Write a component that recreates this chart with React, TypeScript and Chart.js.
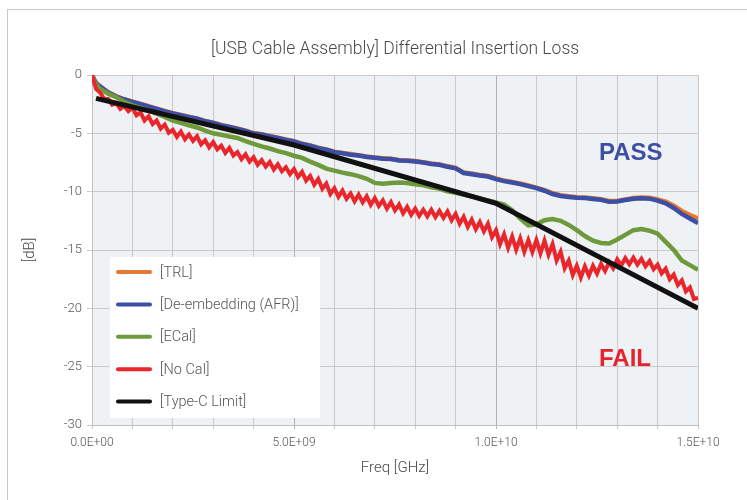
import React, { useEffect, useRef } from "react";
import { Chart, registerables } from "chart.js";

Chart.register(...registerables);

// Frequency samples in GHz (shared by TRL / AFR / ECal)
const FREQ_GHZ = [
  0, 0.05, 0.1, 0.2, 0.4, 0.6, 0.8, 1.0, 1.2, 1.4,
  1.6, 1.8, 2.0, 2.2, 2.4, 2.6, 2.8, 3.0, 3.2, 3.4,
  3.6, 3.8, 4.0, 4.2, 4.4, 4.6, 4.8, 5.0, 5.2, 5.4,
  5.6, 5.8, 6.0, 6.2, 6.4, 6.6, 6.8, 7.0, 7.2, 7.4,
  7.6, 7.8, 8.0, 8.2, 8.4, 8.6, 8.8, 9.0, 9.2, 9.4,
  9.6, 9.8, 10.0, 10.2, 10.4, 10.6, 10.8, 11.0, 11.2, 11.4,
  11.6, 11.8, 12.0, 12.2, 12.4, 12.6, 12.8, 13.0, 13.2, 13.4,
  13.6, 13.8, 14.0, 14.2, 14.4, 14.6, 14.8, 15.0,
];

const TRL_DB = [
  0, -0.38, -0.68, -0.98, -1.48, -1.82, -2.08, -2.28, -2.48, -2.68,
  -2.88, -3.08, -3.28, -3.43, -3.58, -3.73, -3.93, -4.08, -4.28, -4.43,
  -4.58, -4.78, -4.98, -5.08, -5.23, -5.38, -5.53, -5.68, -5.88, -6.03,
  -6.23, -6.38, -6.58, -6.68, -6.78, -6.88, -6.98, -7.08, -7.13, -7.18,
  -7.28, -7.33, -7.38, -7.47, -7.58, -7.67, -7.82, -7.97, -8.35, -8.45,
  -8.57, -8.65, -8.87, -9.05, -9.17, -9.3, -9.47, -9.65, -9.87, -10.13,
  -10.3, -10.4, -10.47, -10.5, -10.57, -10.65, -10.8, -10.8, -10.67, -10.55,
  -10.5, -10.52, -10.67, -10.85, -11.2, -11.65, -12.0, -12.3,
];

const AFR_DB = [
  0, -0.4, -0.7, -1.0, -1.5, -1.85, -2.1, -2.3, -2.5, -2.72,
  -2.9, -3.12, -3.3, -3.45, -3.62, -3.75, -3.97, -4.1, -4.32, -4.45,
  -4.62, -4.8, -5.02, -5.1, -5.27, -5.4, -5.57, -5.7, -5.92, -6.05,
  -6.27, -6.4, -6.62, -6.7, -6.83, -6.9, -7.03, -7.1, -7.17, -7.2,
  -7.33, -7.35, -7.42, -7.5, -7.63, -7.7, -7.87, -8.0, -8.4, -8.5,
  -8.62, -8.7, -8.92, -9.1, -9.22, -9.35, -9.52, -9.7, -9.92, -10.2,
  -10.37, -10.45, -10.52, -10.55, -10.62, -10.7, -10.87, -10.85, -10.72, -10.6,
  -10.57, -10.6, -10.77, -11.0, -11.4, -11.9, -12.3, -12.7,
];

const ECAL_DB = [
  0, -0.5, -0.8, -1.2, -1.6, -1.9, -2.3, -2.6, -2.82, -3.05,
  -3.32, -3.6, -3.92, -4.1, -4.32, -4.5, -4.77, -5.0, -5.12, -5.27,
  -5.4, -5.67, -5.9, -6.12, -6.3, -6.52, -6.7, -6.92, -7.1, -7.42,
  -7.7, -8.02, -8.2, -8.37, -8.5, -8.67, -8.9, -9.25, -9.32, -9.25,
  -9.22, -9.25, -9.37, -9.45, -9.62, -9.75, -9.97, -10.1, -10.27, -10.4,
  -10.57, -10.75, -10.92, -11.1, -11.6, -12.3, -12.9, -12.8, -12.45, -12.35,
  -12.5, -12.85, -13.3, -13.8, -14.2, -14.4, -14.45, -14.1, -13.7, -13.3,
  -13.2, -13.35, -13.6, -14.3, -15.0, -15.9, -16.3, -16.7,
];

// No Cal trace is sampled more finely (every 0.1 GHz) to keep its ripple
const NOCAL_FREQ_GHZ = [
  0.0, 0.1, 0.2, 0.3, 0.4, 0.5, 0.6, 0.7, 0.8, 0.9,
  1.0, 1.1, 1.2, 1.3, 1.4, 1.5, 1.6, 1.7, 1.8, 1.9,
  2.0, 2.1, 2.2, 2.3, 2.4, 2.5, 2.6, 2.7, 2.8, 2.9,
  3.0, 3.1, 3.2, 3.3, 3.4, 3.5, 3.6, 3.7, 3.8, 3.9,
  4.0, 4.1, 4.2, 4.3, 4.4, 4.5, 4.6, 4.7, 4.8, 4.9,
  5.0, 5.1, 5.2, 5.3, 5.4, 5.5, 5.6, 5.7, 5.8, 5.9,
  6.0, 6.1, 6.2, 6.3, 6.4, 6.5, 6.6, 6.7, 6.8, 6.9,
  7.0, 7.1, 7.2, 7.3, 7.4, 7.5, 7.6, 7.7, 7.8, 7.9,
  8.0, 8.1, 8.2, 8.3, 8.4, 8.5, 8.6, 8.7, 8.8, 8.9,
  9.0, 9.1, 9.2, 9.3, 9.4, 9.5, 9.6, 9.7, 9.8, 9.9,
  10.0, 10.1, 10.2, 10.3, 10.4, 10.5, 10.6, 10.7, 10.8, 10.9,
  11.0, 11.1, 11.2, 11.3, 11.4, 11.5, 11.6, 11.7, 11.8, 11.9,
  12.0, 12.1, 12.2, 12.3, 12.4, 12.5, 12.6, 12.7, 12.8, 12.9,
  13.0, 13.1, 13.2, 13.3, 13.4, 13.5, 13.6, 13.7, 13.8, 13.9,
  14.0, 14.1, 14.2, 14.3, 14.4, 14.5, 14.6, 14.7, 14.8, 14.9,
  15.0,
];

const NOCAL_DB = [
  0, -1.2, -1.5, -2.05, -2.05, -2.55, -2.4, -2.9, -2.65, -3.1,
  -2.8, -3.45, -3.2, -3.9, -3.55, -4.2, -3.9, -4.6, -4.25, -4.95,
  -4.7, -5.3, -4.85, -5.5, -5.1, -5.65, -5.25, -5.95, -5.6, -6.2,
  -5.75, -6.37, -6.05, -6.68, -6.25, -6.9, -6.6, -7.22, -6.8, -7.43,
  -7.05, -7.7, -7.3, -7.85, -7.45, -8.1, -7.65, -8.25, -7.9, -8.5,
  -8.05, -8.75, -8.3, -9.05, -8.65, -9.4, -8.9, -9.75, -9.3, -10.2,
  -9.7, -10.45, -9.9, -10.6, -10.15, -10.83, -10.25, -10.92, -10.4, -11.13,
  -10.55, -11.22, -10.75, -11.45, -10.9, -11.6, -11.1, -11.85, -11.3, -11.98,
  -11.45, -12.08, -11.55, -12.12, -11.55, -12.18, -11.65, -12.25, -11.7, -12.45,
  -11.9, -12.75, -12.15, -13.02, -12.4, -13.22, -12.6, -13.4, -12.75, -13.9,
  -13.3, -14.5, -13.65, -14.82, -13.85, -14.97, -14.0, -15.15, -14.15, -15.17,
  -14.15, -15.28, -14.2, -15.4, -14.5, -15.9, -15.15, -16.55, -15.9, -17.15,
  -16.35, -17.35, -16.4, -17.2, -16.35, -17.02, -16.2, -16.8, -16.05, -16.57,
  -15.8, -16.32, -15.7, -16.22, -15.65, -16.25, -15.75, -16.4, -15.95, -16.65,
  -16.25, -17.0, -16.6, -17.5, -17.1, -18.0, -17.6, -18.55, -18.2, -19.2,
  -19.1,
];

const LIMIT_FREQ_GHZ = [0.1, 5, 10, 15];
const LIMIT_DB = [-2.0, -6.0, -11.0, -20.0];

const SERIES_NAMES = ["[TRL]", "[De-embedding (AFR)]", "[ECal]", "[No Cal]", "[Type-C Limit]"];
const SERIES_COLORS = ["#e8782f", "#3d4ea5", "#6e9a3c", "#e8262b", "#111111"];

const TITLE = "[USB Cable Assembly] Differential Insertion Loss";
const X_TITLE = "Freq [GHz]";
const Y_TITLE = "[dB]";
const X_LABEL_EVERY_GHZ = 5;

const NOTE_PASS = { text: "PASS", x: 12.55, y: -6.7, color: "#3d4fa3" };
const NOTE_FAIL = { text: "FAIL", x: 12.55, y: -24.35, color: "#e5232f" };

const FONT = "Roboto";

function pts(xs: number[], ys: number[]) {
  return xs.map((x, i) => ({ x, y: ys[i] }));
}

function fmtHz(ghz: number) {
  const hz = Math.round(ghz * 1e9);
  if (hz === 0) return "0.0E+00";
  const exp = Math.floor(Math.log10(hz) + 1e-9);
  const mant = hz / Math.pow(10, exp);
  return `${mant.toFixed(1)}E+${String(exp).padStart(2, "0")}`;
}

const bgPlugin = {
  id: "plotBg",
  beforeDraw(chart: any) {
    const { ctx, chartArea } = chart;
    ctx.save();
    ctx.fillStyle = "#eff2f4";
    ctx.fillRect(chartArea.left, chartArea.top, chartArea.right - chartArea.left, chartArea.bottom - chartArea.top);
    ctx.restore();
  },
};

const overlayPlugin = {
  id: "overlay",
  afterDatasetsDraw(chart: any) {
    const { ctx, chartArea, scales } = chart;
    ctx.save();
    // legend box
    const bx = chartArea.left + 18;
    const by = chartArea.top + 182;
    const bw = 210;
    const bh = 161;
    ctx.fillStyle = "#ffffff";
    ctx.fillRect(bx, by, bw, bh);
    ctx.font = `300 14.5px ${FONT}`;
    ctx.textBaseline = "middle";
    ctx.textAlign = "left";
    SERIES_NAMES.forEach((name, i) => {
      const cy = by + 15 + i * 32.4;
      ctx.strokeStyle = SERIES_COLORS[i];
      ctx.lineWidth = 4;
      ctx.lineCap = "round";
      ctx.beginPath();
      ctx.moveTo(bx + 8, cy);
      ctx.lineTo(bx + 40, cy);
      ctx.stroke();
      ctx.fillStyle = "#555555";
      ctx.fillText(name, bx + 50, cy + 1);
    });
    // PASS / FAIL notes
    ctx.font = `bold 24px "Liberation Sans", Arial, sans-serif`;
    [NOTE_PASS, NOTE_FAIL].forEach((n) => {
      ctx.fillStyle = n.color;
      ctx.fillText(n.text, scales.x.getPixelForValue(n.x), scales.y.getPixelForValue(n.y));
    });
    ctx.restore();
  },
};

export default function App() {
  const ref = useRef<HTMLCanvasElement | null>(null);

  useEffect(() => {
    if (!ref.current) return;
    const lineDs = (i: number, data: any[], order: number, width = 4.5) => ({
      label: SERIES_NAMES[i],
      data,
      borderColor: SERIES_COLORS[i],
      backgroundColor: SERIES_COLORS[i],
      borderWidth: width,
      pointRadius: 0,
      tension: 0,
      fill: false,
      order,
    });
    const chart = new Chart(ref.current, {
      type: "line",
      data: {
        datasets: [
          lineDs(0, pts(FREQ_GHZ, TRL_DB), 4),
          lineDs(1, pts(FREQ_GHZ, AFR_DB), 3),
          lineDs(2, pts(FREQ_GHZ, ECAL_DB), 2),
          lineDs(3, pts(NOCAL_FREQ_GHZ, NOCAL_DB), 1, 4),
          lineDs(4, pts(LIMIT_FREQ_GHZ, LIMIT_DB), 0, 5),
        ],
      },
      options: {
        animation: false,
        responsive: false,
        layout: { padding: { left: 0, right: 49, top: 0, bottom: 0 } },
        plugins: {
          legend: { display: false },
          tooltip: { enabled: false },
          title: {
            display: true,
            text: TITLE,
            fullSize: false,
            color: "#4a4a4a",
            font: { family: FONT, size: 17.5, weight: "300" as any },
            padding: { top: 39, bottom: 15 },
          },
        },
        scales: {
          x: {
            type: "linear",
            min: 0,
            max: 15,
            ticks: {
              stepSize: 1,
              autoSkip: false,
              maxRotation: 0,
              padding: 7,
              color: "#555555",
              font: { family: FONT, size: 12, weight: "300" as any },
              callback: (v: any) => (Math.abs(v % X_LABEL_EVERY_GHZ) < 1e-6 ? fmtHz(Number(v)) : ""),
            },
            grid: {
              color: (c: any) => (c.tick && (c.tick.value === 5 || c.tick.value === 10) ? "#b5b0b0" : "#cdc8c8"),
              lineWidth: 1,
              tickLength: 4,
            },
            border: { display: true, color: "#c4bfbf" },
            title: {
              display: true,
              text: X_TITLE,
              color: "#4a4a4a",
              font: { family: FONT, size: 15, weight: "300" as any },
              padding: { top: 4, bottom: 23 },
            },
            afterFit: (s: any) => {
              s.height = 75;
            },
          },
          y: {
            type: "linear",
            min: -30,
            max: 0,
            ticks: {
              stepSize: 5,
              padding: 5,
              color: "#555555",
              font: { family: FONT, size: 13, weight: "300" as any },
            },
            grid: { color: "#cdc8c8", lineWidth: 1, tickLength: 5 },
            border: { display: true, color: "#c4bfbf" },
            title: {
              display: true,
              text: Y_TITLE,
              color: "#4a4a4a",
              font: { family: FONT, size: 15, weight: "300" as any },
              padding: { top: 21, bottom: 4 },
            },
            afterFit: (s: any) => {
              s.width = 92;
            },
          },
        },
      },
      plugins: [bgPlugin, overlayPlugin],
    });
    return () => chart.destroy();
  }, []);

  return (
    <div style={{ position: "fixed", left: 0, top: 0, width: 747, height: 500, overflow: "hidden", background: "#ffffff" }}>
      <div
        style={{
          position: "absolute",
          left: 7,
          top: 9,
          width: 800,
          height: 600,
          borderLeft: "1.5px solid #c8c8c8",
          borderTop: "1.5px solid #c8c8c8",
        }}
      />
      <canvas ref={ref} width={747} height={500} style={{ position: "absolute", left: 0, top: 0, width: 747, height: 500 }} />
    </div>
  );
}
